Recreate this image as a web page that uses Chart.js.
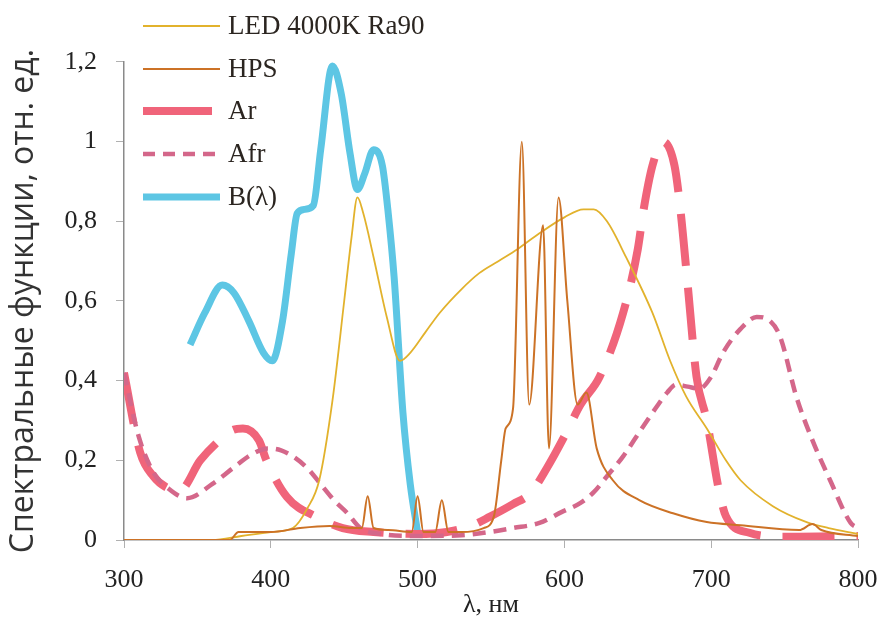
<!DOCTYPE html>
<html>
<head>
  <meta charset="UTF-8">
  <title>Spectral functions</title>
  <script src="https://cdn.jsdelivr.net/npm/chart.js@4.4.1/dist/chart.umd.min.js"></script>
  <style>
    body { margin: 0; background: #fff; }
    #box { width: 881px; height: 621px; }
  </style>
</head>
<body>
<div id="box">
  <canvas id="myChart" width="881" height="621"></canvas>
</div>
<script>
// wavelengths (nm) and relative values
const ledNm  = [300, 360, 380, 400, 415, 425, 433, 442, 450, 455, 459, 463, 470, 479, 488, 495, 505, 515, 530, 542, 555, 568, 583, 600, 613, 620, 629, 642, 660, 672, 683, 697, 710, 720, 742, 765, 780, 800];
const ledVal = [0, 0, 0.01, 0.02, 0.03, 0.08, 0.15, 0.35, 0.6, 0.76, 0.86, 0.82, 0.71, 0.56, 0.45, 0.47, 0.52, 0.57, 0.63, 0.67, 0.70, 0.73, 0.77, 0.81, 0.83, 0.83, 0.80, 0.71, 0.57, 0.45, 0.36, 0.28, 0.20, 0.15, 0.085, 0.045, 0.03, 0.015];

const hpsNm  = [300, 372, 378, 400, 420, 440, 455, 462, 466, 470, 480, 496, 500, 504, 512, 516.5, 521, 530, 545, 552, 557, 560, 565, 571, 576, 585.5, 589.5, 596, 602, 609, 615, 622, 633, 651, 674, 697, 720, 760, 769, 775, 800];
const hpsVal = [0, 0, 0.02, 0.02, 0.03, 0.035, 0.03, 0.03, 0.11, 0.03, 0.025, 0.02, 0.11, 0.02, 0.02, 0.10, 0.02, 0.02, 0.03, 0.06, 0.2, 0.28, 0.33, 1.0, 0.34, 0.79, 0.23, 0.86, 0.6, 0.34, 0.37, 0.23, 0.15, 0.10, 0.067, 0.045, 0.037, 0.025, 0.04, 0.025, 0.01];

const arNm  = [300, 311, 320, 330, 338, 352, 365, 374, 381, 392, 397, 411, 431, 449, 470, 500, 520, 536, 549, 565, 577, 588, 600, 611, 624, 640, 650, 654, 660, 667, 675, 679, 684, 690, 697, 705, 710, 726, 750, 800];
const arVal = [0.42, 0.22, 0.16, 0.13, 0.125, 0.2, 0.25, 0.276, 0.28, 0.25, 0.2, 0.108, 0.058, 0.03, 0.02, 0.015, 0.02, 0.035, 0.058, 0.09, 0.118, 0.18, 0.26, 0.34, 0.41, 0.57, 0.73, 0.83, 0.94, 1.0, 0.94, 0.83, 0.64, 0.41, 0.3, 0.13, 0.06, 0.018, 0.008, 0.01];

const afrNm  = [300, 310, 320, 330, 343, 360, 374, 387, 398, 407, 415, 425, 434, 443, 452, 461, 475, 500, 530, 549, 565, 583, 598, 611, 620, 629, 640, 652, 662, 670, 676, 684, 692, 700, 708, 720, 731, 740, 747, 758, 769, 781, 795, 800];
const afrVal = [0.42, 0.26, 0.17, 0.13, 0.105, 0.14, 0.18, 0.215, 0.23, 0.225, 0.21, 0.18, 0.14, 0.10, 0.068, 0.03, 0.015, 0.01, 0.012, 0.02, 0.03, 0.043, 0.07, 0.093, 0.12, 0.16, 0.21, 0.276, 0.33, 0.37, 0.39, 0.385, 0.38, 0.41, 0.47, 0.53, 0.56, 0.55, 0.51, 0.36, 0.25, 0.15, 0.043, 0.03];

const bNm  = [345, 355, 367, 375, 385, 395, 401, 408, 414, 418, 423, 429, 434, 442, 448, 454, 459, 464, 470, 476, 480, 484, 490, 495, 500];
const bVal = [0.49, 0.57, 0.64, 0.62, 0.55, 0.47, 0.45, 0.55, 0.72, 0.82, 0.83, 0.84, 0.98, 1.19, 1.12, 0.97, 0.88, 0.92, 0.98, 0.94, 0.82, 0.66, 0.32, 0.14, 0.02];

const seriesNames = ['LED 4000K Ra90', 'HPS', 'Ar', 'Afr', 'B(\u03bb)'];
const yTickLabels = ['0', '0,2', '0,4', '0,6', '0,8', '1', '1,2'];
const xTickLabels = ['300', '400', '500', '600', '700', '800'];

const pts = (xs, ys) => xs.map((x, i) => ({x: x, y: ys[i]}));
const FONT = "'Liberation Serif', 'DejaVu Serif', serif";
const SANS = "'Open Sans', 'Noto Sans', sans-serif";

// legend drawn inside the plot, top-left
const insideLegend = {
  id: 'insideLegend',
  afterDraw(chart) {
    const ctx = chart.ctx;
    const rows = [26, 69, 111, 154, 197];
    ctx.save();
    chart.data.datasets.forEach((ds, i) => {
      const y = rows[i];
      ctx.beginPath();
      ctx.lineWidth = ds.borderWidth;
      ctx.strokeStyle = ds.borderColor;
      ctx.setLineDash(ds.legendDash || []);
      ctx.lineCap = 'butt';
      ctx.moveTo(143, y);
      ctx.lineTo(ds.legendEnd || 220, y);
      ctx.stroke();
      ctx.setLineDash([]);
      ctx.fillStyle = '#2b2520';
      ctx.font = '27px ' + FONT;
      ctx.textBaseline = 'middle';
      ctx.textAlign = 'left';
      ctx.fillText(ds.label, 228, y + 1);
    });
    ctx.restore();
  }
};

const ctx = document.getElementById('myChart').getContext('2d');
const myChart = new Chart(ctx, {
  type: 'line',
  data: {
    datasets: [{
      label: seriesNames[0],
      data: pts(ledNm, ledVal),
      borderColor: '#e2b22c',
      borderWidth: 1.8,
      order: 1
    }, {
      label: seriesNames[1],
      data: pts(hpsNm, hpsVal),
      borderColor: '#cc7226',
      borderWidth: 2,
      order: 0
    }, {
      label: seriesNames[2],
      data: pts(arNm, arVal),
      borderColor: '#f0647a',
      borderWidth: 8,
      borderDash: [52, 22],
      legendEnd: 212,
      order: 3
    }, {
      label: seriesNames[3],
      data: pts(afrNm, afrVal),
      borderColor: '#d4678a',
      borderWidth: 4.5,
      borderDash: [13, 8],
      legendDash: [12, 8],
      order: 2
    }, {
      label: seriesNames[4],
      data: pts(bNm, bVal),
      borderColor: '#5dc6e4',
      borderWidth: 7,
      order: 4
    }]
  },
  options: {
    responsive: false,
    animation: false,
    events: [],
    datasets: {
      line: {
        pointRadius: 0,
        fill: false,
        cubicInterpolationMode: 'monotone'
      }
    },
    layout: {
      padding: {top: 62, right: 23, left: 0, bottom: 0}
    },
    scales: {
      x: {
        type: 'linear',
        min: 300,
        max: 800,
        afterFit: (s) => { s.height = 81; s.paddingRight = 0; s.paddingLeft = 0; },
        afterBuildTicks: (s) => { s.ticks = xTickLabels.map(v => ({value: +v})); },
        border: {color: '#8a8a8a', width: 1.5},
        grid: {drawOnChartArea: false, tickLength: 8, color: '#b0b0b0'},
        ticks: {
          padding: 17,
          color: '#222',
          font: {family: FONT, size: 26},
          callback: (v) => String(v)
        },
        title: {
          display: true,
          text: '\u03bb, нм',
          color: '#222',
          padding: {top: 0, bottom: 0},
          font: {family: FONT, size: 26}
        }
      },
      y: {
        min: 0,
        max: 1.2,
        afterFit: (s) => { s.width = 124; },
        afterBuildTicks: (s) => { s.ticks = yTickLabels.map((t, i) => ({value: i * 0.2})); },
        border: {color: '#8a8a8a', width: 1.5},
        grid: {drawOnChartArea: false, tickLength: 8, color: '#b0b0b0'},
        ticks: {
          padding: 19,
          color: '#222',
          font: {family: FONT, size: 26},
          callback: (v, i) => yTickLabels[i]
        },
        title: {
          display: true,
          text: 'Спектральные функции, отн. ед.',
          color: '#333',
          padding: {top: 5, bottom: 0},
          font: {family: SANS, size: 32}
        }
      }
    },
    plugins: {
      legend: {display: false},
      tooltip: {enabled: false}
    }
  },
  plugins: [insideLegend]
});
</script>
</body>
</html>
